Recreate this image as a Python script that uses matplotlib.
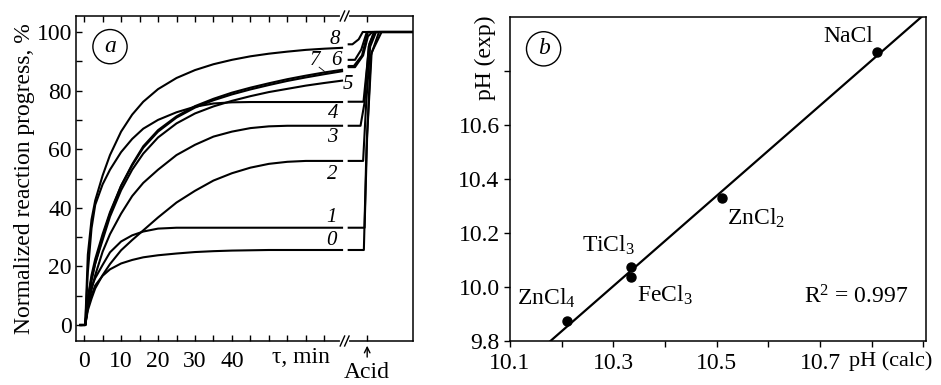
import numpy as np
import matplotlib.pyplot as plt

plt.rcParams['font.family'] = ['Liberation Serif', 'DejaVu Serif']
plt.rcParams['mathtext.fontset'] = 'custom'
plt.rcParams['mathtext.rm'] = 'Liberation Serif'
plt.rcParams['mathtext.it'] = 'Liberation Serif:italic'
FS = 17

# ---- panel a: reaction progress vs time (before the break) ----
tau = [-1, 0.3, 1, 2, 3, 5, 7, 10, 13, 16, 20, 25, 30, 35, 40, 45, 50, 55, 60, 65, 69.8]
curve_0 = [0, 0, 6, 10, 13.5, 16.8, 19.0, 21.0, 22.2, 23.1, 23.8, 24.4, 24.9, 25.2, 25.4, 25.5, 25.6, 25.6, 25.6, 25.6, 25.6]
curve_1 = [0, 0, 8, 13, 16, 20.5, 24.8, 28.5, 30.6, 31.9, 32.9, 33.2, 33.2, 33.2, 33.2, 33.2, 33.2, 33.2, 33.2, 33.2, 33.2]
curve_2 = [0, 0, 5, 9, 12.5, 17, 20.8, 25.5, 29, 32.3, 36.7, 41.8, 45.8, 49.3, 51.8, 53.7, 55, 55.7, 56, 56, 56]
curve_3 = [0, 0, 6, 12, 17, 25, 31, 38, 44, 48.5, 53, 58, 61.5, 64.3, 66, 67.2, 67.8, 68, 68, 68, 68]
curve_4 = [0, 0, 18, 33, 41, 48, 53, 59, 63.5, 67, 70, 72.6, 74.5, 75.6, 76, 76.1, 76.1, 76.1, 76.1, 76.1, 76.1]
curve_5 = [0, 0, 9, 16, 21, 29, 37, 46, 53, 58.5, 64, 68.8, 72.2, 74.6, 76.5, 78.1, 79.5, 80.6, 81.7, 82.6, 83.4]
curve_6 = [0, 0, 9, 17, 22.5, 31, 38.5, 47.5, 54.5, 60.5, 66, 70.8, 74.2, 76.7, 78.7, 80.4, 81.9, 83.3, 84.5, 85.6, 86.6]
curve_7 = [0, 0, 8, 15, 21, 30, 38, 47.5, 54.8, 61, 66.5, 71.2, 74.7, 77.2, 79.3, 81, 82.5, 83.9, 85.1, 86.2, 87.1]
curve_8 = [0, 0, 24, 36, 42.5, 51, 58, 66, 71.8, 76.2, 80.5, 84.3, 87.0, 89.0, 90.5, 91.7, 92.6, 93.3, 93.9, 94.3, 94.6]

# ---- panel a: after the break (acid added) ----
acid_x_0 = [71.6, 75.7, 76.4, 77.6, 79.8, 89]
acid_y_0 = [25.6, 25.6, 60, 92, 100, 100]
acid_x_1 = [71.6, 75.9, 76.6, 77.8, 80.5, 89]
acid_y_1 = [33.2, 33.2, 65, 93, 100, 100]
acid_x_2 = [71.6, 75.5, 76.3, 77.4, 79.0, 89]
acid_y_2 = [56, 56, 75, 95, 100, 100]
acid_x_3 = [71.6, 74.8, 75.9, 77.0, 78.5, 89]
acid_y_3 = [68, 68, 76, 95, 100, 100]
acid_x_4 = [71.6, 75.6, 76.3, 77.2, 78.5, 89]
acid_y_4 = [76.2, 76.2, 85, 96, 100, 100]
acid_x_5 = [71.6, 73.3, 75.5, 76.8, 78, 89]
acid_y_5 = [88, 88, 92, 98.5, 100, 100]
acid_x_6 = [71.6, 73.3, 75.0, 76.5, 89]
acid_y_6 = [90.5, 90.5, 94, 100, 100]
acid_x_7 = [71.6, 73.0, 75.2, 76.8, 89]
acid_y_7 = [88.4, 88.4, 92, 100, 100]
acid_x_8 = [71.6, 72.6, 74.3, 75.4, 89]
acid_y_8 = [95.8, 95.8, 97.5, 100, 100]

curve_names = ['0', '1', '2', '3', '4', '5', '6', '7', '8']
acid_time = 76.6

# ---- panel b: pH calc vs exp ----
salts = ['NaCl', 'ZnCl$_2$', 'TiCl$_3$', 'FeCl$_3$', 'ZnCl$_4$']
ph_calc = [10.811, 10.511, 10.334, 10.334, 10.211]
ph_exp = [10.873, 10.331, 10.074, 10.037, 9.873]
r2_text = 'R$^2$ = 0.997'

fig = plt.figure(figsize=(9.41, 3.85), dpi=100)
ax1 = fig.add_axes([76 / 941, 44 / 385, 337 / 941, 325 / 385])
ax2 = fig.add_axes([510 / 941, 44.3 / 385, 416 / 941, 323.4 / 385])

curves = [curve_0, curve_1, curve_2, curve_3, curve_4, curve_5, curve_6, curve_7, curve_8]
acid_parts = [(acid_x_0, acid_y_0), (acid_x_1, acid_y_1), (acid_x_2, acid_y_2),
              (acid_x_3, acid_y_3), (acid_x_4, acid_y_4), (acid_x_5, acid_y_5),
              (acid_x_6, acid_y_6), (acid_x_7, acid_y_7), (acid_x_8, acid_y_8)]
for vals, (px, py) in zip(curves, acid_parts):
    ax1.plot(tau, vals, color='k', lw=1.5)
    ax1.plot(px, py, color='k', lw=1.5)

ax1.set_xlim(-2.2, 89)
ax1.set_ylim(-5.46, 105.46)
xt = list(range(0, 70, 5)) + [acid_time]
ax1.set_xticks(xt)
ax1.set_xticklabels([str(v) if v in (0, 10, 20, 30, 40) else '' for v in xt], fontsize=FS)
ax1.set_yticks(range(0, 101, 10))
ax1.set_yticklabels([str(v) if v % 20 == 0 else '' for v in range(0, 101, 10)], fontsize=FS)
ax1.tick_params(axis='x', direction='in', length=4, width=1, top=True, pad=7)
ax1.tick_params(axis='y', direction='in', length=4, width=1, pad=3)
for s in ax1.spines.values():
    s.set_linewidth(1.1)
ax1.set_ylabel('Normalized reaction progress, %', fontsize=FS, labelpad=1)

# curve numbers
label_pos = {'0': (66.8, 29), '1': (66.9, 36.8), '2': (67.2, 51.5), '3': (67.2, 64),
             '4': (67.4, 72.3), '5': (71.4, 82.1), '6': (68.3, 90.4), '7': (62.4, 90.4),
             '8': (67.8, 97.5)}
for name in curve_names:
    x, y = label_pos[name]
    ax1.text(x, y, name, fontsize=15, style='italic', ha='center', va='center')
ax1.plot([63.6, 65.0], [88.0, 86.6], color='k', lw=0.6)

# axis break marks
for yb in ax1.get_ylim():
    ax1.plot([69.9, 71.2], [yb, yb], color='white', lw=3, clip_on=False, zorder=6)
    for xc in (69.9, 71.1):
        ax1.plot([xc - 0.6, xc + 0.6], [yb - 1.7, yb + 1.7], color='k', lw=1,
                 clip_on=False, zorder=7)

ax1.text(7, 95, 'a', fontsize=FS, style='italic', ha='center', va='center',
         bbox=dict(boxstyle='circle,pad=0.28', fc='white', ec='k', lw=1))
ax1.text(58.6, -0.052, 'τ, min', fontsize=FS, ha='center', va='center',
         transform=ax1.get_xaxis_transform())
ax1.annotate('', xy=(acid_time, -0.006), xytext=(acid_time, -0.058),
             xycoords=ax1.get_xaxis_transform(), textcoords=ax1.get_xaxis_transform(),
             arrowprops=dict(arrowstyle='->', color='k', lw=1))
ax1.text(acid_time, -0.098, 'Acid', fontsize=FS, ha='center', va='center',
         transform=ax1.get_xaxis_transform())

# ---- panel b ----
ax2.plot(ph_calc, ph_exp, 'o', color='k', ms=6.5)
k, b = np.polyfit(ph_calc, ph_exp, 1)
xl = np.array([10.1, 10.95])
ax2.plot(xl, k * xl + b, color='k', lw=1.6)
ax2.set_xlim(10.1, 10.905)
ax2.set_ylim(9.8, 11.0)
xt2 = [10.1, 10.2, 10.3, 10.4, 10.5, 10.6, 10.7, 10.8, 10.9]
ax2.set_xticks(xt2)
ax2.set_xticklabels(['10.1', '', '10.3', '', '10.5', '', '10.7', '', ''], fontsize=FS)
yt2 = [9.8, 10.0, 10.2, 10.4, 10.6, 10.8]
ax2.set_yticks(yt2)
ax2.set_yticklabels(['9.8', '10.0', '10.2', '10.4', '10.6', ''], fontsize=FS)
ax2.tick_params(direction='out', length=4.5, width=1, pad=3)
ax2.tick_params(axis='x', pad=4)
for s in ax2.spines.values():
    s.set_linewidth(1.1)
ax2.text(10.918, -0.062, 'pH (calc)', fontsize=16, ha='right', va='center',
         transform=ax2.get_xaxis_transform())
ax2.text(-0.058, 10.85, 'pH (exp)', fontsize=FS, rotation=90, ha='center', va='center',
         transform=ax2.get_yaxis_transform())

salt_pos = [(10.755, 10.93, 'center'), (10.519, 10.254, 'left'), (10.239, 10.154, 'left'),
            (10.345, 9.969, 'left'), (10.113, 9.958, 'left')]
for name, (x, y, ha) in zip(salts, salt_pos):
    ax2.text(x, y, name, fontsize=FS, ha=ha, va='center')
ax2.text(10.668, 9.962, r2_text, fontsize=FS, ha='left', va='center')
ax2.text(10.165, 10.883, 'b', fontsize=FS, style='italic', ha='center', va='center',
         bbox=dict(boxstyle='circle,pad=0.28', fc='white', ec='k', lw=1))

fig.savefig('out.png', dpi=100)
